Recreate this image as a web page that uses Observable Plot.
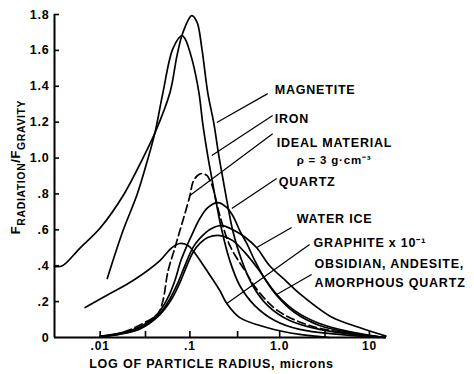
<!DOCTYPE html>
<html><head><meta charset="utf-8">
<script src="https://cdn.jsdelivr.net/npm/d3@7"></script>
<script src="https://cdn.jsdelivr.net/npm/@observablehq/plot@0.6"></script>
<style>body{margin:0;background:#fff}</style>
</head><body><div id="chart"></div>
<script>
// particle radius (microns) and F_radiation/F_gravity for each material
const magnetiteR = [0.0031, 0.0038, 0.006, 0.01, 0.0185, 0.030, 0.0408, 0.06, 0.0718, 0.0836, 0.105, 0.12, 0.136, 0.158, 0.185, 0.21, 0.233, 0.258, 0.30, 0.378, 0.50, 0.736, 1.29, 2.78, 6.8, 14.7];
const magnetiteV = [0.396, 0.40, 0.50, 0.61, 0.80, 1.00, 1.14, 1.365, 1.571, 1.70, 1.794, 1.757, 1.61, 1.365, 1.192, 1.014, 0.886, 0.763, 0.596, 0.429, 0.29, 0.178, 0.095, 0.045, 0.017, 0];
const ironR = [0.012, 0.018, 0.0258, 0.0341, 0.0408, 0.0501, 0.0647, 0.0815, 0.088, 0.105, 0.126, 0.139, 0.158, 0.1755, 0.1945, 0.227, 0.278, 0.359, 0.528, 0.88, 1.67, 4.64, 12.9];
const ironV = [0.329, 0.596, 0.797, 0.997, 1.142, 1.365, 1.61, 1.682, 1.666, 1.554, 1.365, 1.192, 1.014, 0.886, 0.763, 0.596, 0.429, 0.29, 0.178, 0.095, 0.045, 0.017, 0];
const idealR = [0.01, 0.0167, 0.030, 0.0441, 0.0501, 0.057, 0.0681, 0.0774, 0.088, 0.100, 0.108, 0.12, 0.136, 0.1545, 0.167, 0.180, 0.2154, 0.278, 0.409, 0.570, 0.95, 2.15, 6.0, 14.7];
const idealV = [0.006, 0.024, 0.078, 0.134, 0.206, 0.37, 0.50, 0.596, 0.691, 0.79, 0.865, 0.90, 0.914, 0.903, 0.875, 0.836, 0.68, 0.513, 0.373, 0.262, 0.15, 0.067, 0.022, 0];
const quartzR = [0.01, 0.0167, 0.0278, 0.0441, 0.057, 0.0681, 0.0794, 0.095, 0.108, 0.129, 0.158, 0.2047, 0.258, 0.30, 0.359, 0.43, 0.528, 0.681, 0.95, 1.468, 2.78, 6.0, 14.7];
const quartzV = [0.007, 0.024, 0.060, 0.134, 0.223, 0.318, 0.429, 0.524, 0.585, 0.663, 0.724, 0.752, 0.724, 0.68, 0.596, 0.524, 0.429, 0.329, 0.234, 0.15, 0.078, 0.033, 0];
const waterR = [0.01, 0.0167, 0.0278, 0.0464, 0.06, 0.0736, 0.088, 0.108, 0.129, 0.167, 0.227, 0.316, 0.409, 0.555, 0.774, 1.196, 1.668, 3.88, 7.74, 15.3];
const waterV = [0.005, 0.02, 0.052, 0.134, 0.217, 0.306, 0.401, 0.501, 0.552, 0.602, 0.624, 0.595, 0.56, 0.50, 0.40, 0.312, 0.245, 0.111, 0.056, 0.008];
const obsidianR = [0.01, 0.0167, 0.0278, 0.0464, 0.0631, 0.0774, 0.0926, 0.108, 0.129, 0.158, 0.2154, 0.30, 0.409, 0.57, 0.926, 1.468, 2.78, 6.0, 14.7];
const obsidianV = [0.004, 0.018, 0.048, 0.128, 0.217, 0.306, 0.401, 0.474, 0.524, 0.557, 0.568, 0.54, 0.474, 0.384, 0.234, 0.139, 0.067, 0.028, 0];
const graphiteR = [0.0068, 0.0129, 0.0233, 0.0464, 0.0631, 0.0774, 0.095, 0.108, 0.1545, 0.2154, 0.258, 0.359, 0.717, 1.668, 3.59];
const graphiteV = [0.167, 0.245, 0.318, 0.429, 0.501, 0.524, 0.513, 0.485, 0.373, 0.262, 0.189, 0.111, 0.056, 0.017, 0];

// curve labels and leader lines
const labelText = ["MAGNETITE", "IRON", "IDEAL MATERIAL", "QUARTZ", "WATER ICE", "GRAPHITE x 10⁻¹", "OBSIDIAN, ANDESITE,", "AMORPHOUS QUARTZ"];
const labelR = [0.88, 0.88, 0.926, 0.975, 1.546, 2.387, 2.449, 2.449];
const labelV = [1.382, 1.220, 1.086, 0.864, 0.663, 0.524, 0.412, 0.301];
const densityText = ["ρ = 3 g·cm⁻³"];
const densityR = [1.546];
const densityV = [0.986];
const leaderR1 = [0.736, 0.836, 0.836, 0.926, 1.359, 2.154, 2.27];
const leaderV1 = [1.359, 1.237, 1.136, 0.886, 0.613, 0.518, 0.351];
const leaderR2 = [0.1995, 0.1755, 0.100, 0.293, 0.555, 0.258, 0.926];
const leaderV2 = [1.198, 1.014, 0.791, 0.719, 0.501, 0.189, 0.240];

// axes
const xTicks = [0.01, 0.032, 0.1, 0.34, 1, 3.2, 10];
const xLabelTicks = [0.01, 0.1, 1, 10];
const xTickLabels = [".01", ".1", "1.0", "10"];
const yTicks = [0.2, 0.4, 0.6, 0.8, 1.0, 1.2, 1.4, 1.6, 1.8];
const yLabelTicks = [0, 0.2, 0.4, 0.6, 0.8, 1.0, 1.2, 1.4, 1.6, 1.8];
const yTickLabels = ["0", ".2", ".4", ".6", ".8", "1.0", "1.2", "1.4", "1.6", "1.8"];
const xTitle = ["LOG OF PARTICLE RADIUS, microns"];
const xMin = 0.0031, xMax = 15.5;

const solidSeries = [
  ["magnetite", magnetiteR, magnetiteV],
  ["iron", ironR, ironV],
  ["quartz", quartzR, quartzV],
  ["water ice", waterR, waterV],
  ["obsidian", obsidianR, obsidianV],
  ["graphite", graphiteR, graphiteV]
];
const solidRows = solidSeries.flatMap(([s, R, V]) => R.map((r, i) => ({series: s, r, v: V[i]})));
const idealRows = idealR.map((r, i) => ({r, v: idealV[i]}));
const labels = labelText.map((t, i) => ({t, r: labelR[i], v: labelV[i]}));
const leaders = leaderR1.map((r, i) => ({r1: r, v1: leaderV1[i], r2: leaderR2[i], v2: leaderV2[i]}));

const W = 474, H = 374, mL = 54, mR = 88, mT = 14, mB = 37;
const chart = Plot.plot({
  width: W, height: H,
  marginLeft: mL, marginRight: mR, marginTop: mT, marginBottom: mB,
  style: "font-family:'Liberation Sans',Arial,sans-serif;font-weight:bold;letter-spacing:0.8px;background:#fff;color:#000;",
  x: {type: "log", domain: [xMin, xMax]},
  y: {domain: [0, 1.8]},
  marks: [
    Plot.line(solidRows, {x: "r", y: "v", z: "series", curve: "catmull-rom", stroke: "#000", strokeWidth: 1.7}),
    Plot.line(idealRows, {x: "r", y: "v", curve: "catmull-rom", stroke: "#000", strokeWidth: 1.7, strokeDasharray: "8,4"}),
    Plot.link(leaders, {x1: "r1", y1: "v1", x2: "r2", y2: "v2", stroke: "#000", strokeWidth: 1.2}),
    Plot.text(labels, {x: "r", y: "v", text: "t", textAnchor: "start", fontSize: 12.5, fill: "#000"}),
    Plot.text(densityText, {x: () => densityR[0], y: () => densityV[0], text: d => d, textAnchor: "start", fontSize: 11.5, fill: "#000"}),
    Plot.tickY(yTicks, {y: d => d, insetRight: W - mL - mR - 5, stroke: "#000", strokeWidth: 1.6}),
    Plot.tickX(xTicks, {x: d => d, insetTop: H - mT - mB - 6, stroke: "#000", strokeWidth: 1.6}),
    Plot.axisX({ticks: xLabelTicks, tickFormat: d => xTickLabels[xLabelTicks.indexOf(d)], tickSize: 0, tickPadding: 4, fontSize: 12, label: null}),
    Plot.axisY({ticks: yLabelTicks, tickFormat: d => yTickLabels[yLabelTicks.indexOf(d)], tickSize: 0, tickPadding: 5, fontSize: 12.5, label: null}),
    Plot.text(xTitle, {frameAnchor: "bottom", text: d => d, dx: -9, dy: 30, fontSize: 12.5, fill: "#000"}),
    Plot.ruleY([0], {x1: xMin, x2: xMax, stroke: "#000", strokeWidth: 2}),
    Plot.ruleX([xMin], {y1: 0, y2: 1.8, stroke: "#000", strokeWidth: 2})
  ]
});
document.getElementById("chart").appendChild(chart);

// y-axis title with subscripts
const yl = d3.select(chart).append("text")
  .attr("transform", "translate(19.5,167) rotate(-90)")
  .attr("text-anchor", "middle")
  .attr("font-size", 13).attr("font-weight", "bold").attr("fill", "#000")
  .attr("letter-spacing", "0.6px");
yl.append("tspan").text("F");
yl.append("tspan").attr("font-size", 10.5).attr("dy", 5).text("RADIATION");
yl.append("tspan").attr("dy", -5).text("/F");
yl.append("tspan").attr("font-size", 10.5).attr("dy", 5).text("GRAVITY");
</script>
</body></html>
